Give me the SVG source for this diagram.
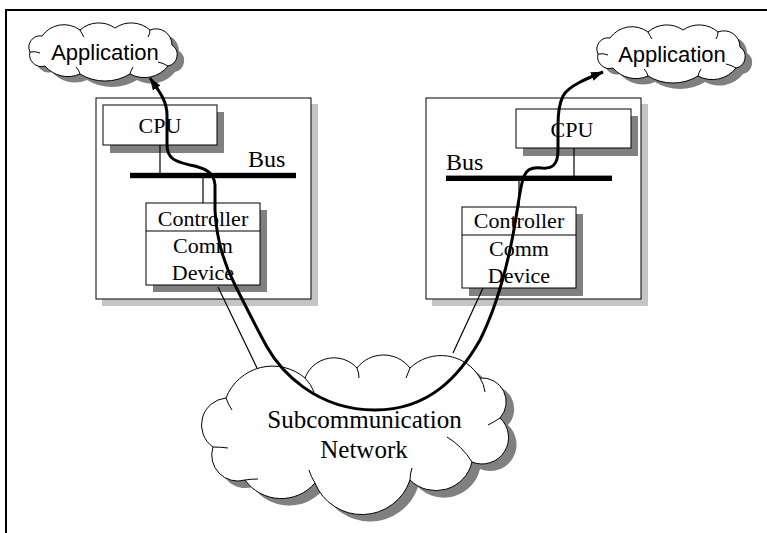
<svg xmlns="http://www.w3.org/2000/svg" xmlns:xlink="http://www.w3.org/1999/xlink" width="767" height="533" viewBox="0 0 767 533">
<style>
.frame{fill:none;stroke:#000;stroke-width:2}
.box{fill:#fff;stroke:#000;stroke-width:1}
.lshadow{fill:#c4c4c4}
.dshadow{fill:#808080}
.cloud{fill:#fff;stroke:#000;stroke-width:1}
.cshadow{fill:#808080;stroke:none}
.inner{fill:none;stroke:#000;stroke-width:1}
.bus{fill:#000}
.thin{fill:none;stroke:#000;stroke-width:1.2}
.path{fill:none;stroke:#000;stroke-width:3;marker-start:url(#arrow);marker-end:url(#arrow)}
.t{font-family:"Liberation Serif","Times New Roman",serif;fill:#000;text-anchor:middle}
.s{font-family:"Liberation Sans",Arial,sans-serif;fill:#000;text-anchor:middle;font-size:22px}
</style>
<defs>
<marker id="arrow" markerUnits="userSpaceOnUse" markerWidth="13" markerHeight="10" viewBox="0 0 13 10" refX="12" refY="5" orient="auto-start-reverse">
<path d="M0,0.5 L12.5,5 L0,9.5 z" fill="#000"/>
</marker>
<path id="appcloud" d="M30,52 A11.3,11.3 0 0 1 42,36 A27,27 0 0 1 80,30 A28.5,28.5 0 0 1 115,28 A28.5,28.5 0 0 1 150,30 A16,16 0 0 1 172,45 A11.6,11.6 0 0 1 168,66 A30,30 0 0 1 130,74 A48,48 0 0 1 80,74 A30,30 0 0 1 45,66 A11.8,11.8 0 0 1 30,52 Z"/>
<path id="appinner" d="M30,52 Q36,51 40,53 M80,30 Q82,34 84,37 M150,30 Q150,34 148,37 M168,66 Q163,63 158,62 M130,74 Q131,70 133,67 M80,74 Q79,70 76,67"/>
<path id="netcloud" d="M213,447 A27,27 0 0 1 226,398 A50,50 0 0 1 305,378 A31,31 0 0 1 357,368 A33.5,33.5 0 0 1 410,368 A45,45 0 0 1 480,378 A24,24 0 0 1 500,418 A26.5,26.5 0 0 1 472,462 A37,37 0 0 1 410,480 A50.7,50.7 0 0 1 315,483 A44.5,44.5 0 0 1 245,480 A26,26 0 0 1 213,447 Z"/>
</defs>

<g id="frame">
<path class="frame" d="M6,533 L6,10 L767,10"/>
</g>

<g id="left-computer">
<rect class="lshadow" x="102" y="104" width="216" height="202"/>
<rect class="box" x="96" y="98" width="215" height="201"/>
<rect class="dshadow" x="110" y="112" width="114" height="41"/>
<rect class="box" x="103" y="105" width="114" height="40"/>
<text class="t" x="160" y="133" font-size="22">CPU</text>
<line class="thin" x1="160" y1="145" x2="160" y2="173"/>
<rect class="bus" x="130" y="172.8" width="166" height="5.4"/>
<text class="t" x="248" y="167" font-size="24" text-anchor="start" style="text-anchor:start">Bus</text>
<line class="thin" x1="203" y1="178" x2="203" y2="203"/>
<rect class="dshadow" x="153" y="210" width="114" height="82"/>
<rect class="box" x="146" y="203" width="114" height="82"/>
<line class="thin" x1="146" y1="231" x2="260" y2="231"/>
<text class="t" x="203" y="226" font-size="22">Controller</text>
<text class="t" x="203" y="253" font-size="22">Comm</text>
<text class="t" x="203" y="280" font-size="22">Device</text>
</g>

<g id="right-computer">
<rect class="lshadow" x="432" y="104" width="216" height="202"/>
<rect class="box" x="426" y="98" width="215" height="201"/>
<rect class="dshadow" x="523" y="116" width="115" height="40"/>
<rect class="box" x="516" y="109" width="115" height="39"/>
<text class="t" x="572" y="137" font-size="22">CPU</text>
<line class="thin" x1="574" y1="148" x2="574" y2="176"/>
<rect class="bus" x="446" y="175.6" width="166" height="5.4"/>
<text class="t" x="446" y="170" font-size="24" style="text-anchor:start">Bus</text>
<line class="thin" x1="519" y1="181" x2="519" y2="207"/>
<rect class="dshadow" x="469" y="214" width="114" height="82"/>
<rect class="box" x="462" y="207" width="114" height="81"/>
<line class="thin" x1="462" y1="235" x2="576" y2="235"/>
<text class="t" x="519" y="228" font-size="22">Controller</text>
<text class="t" x="519" y="256" font-size="22">Comm</text>
<text class="t" x="519" y="283" font-size="22">Device</text>
</g>

<g id="app-left">
<use xlink:href="#appcloud" href="#appcloud" class="cshadow" transform="translate(7,6)"/>
<use xlink:href="#appcloud" href="#appcloud" class="cloud"/>
<use xlink:href="#appinner" href="#appinner" class="inner"/>
<text class="s" x="105" y="60">Application</text>
</g>

<g id="app-right">
<use xlink:href="#appcloud" href="#appcloud" class="cshadow" transform="translate(575,8)"/>
<use xlink:href="#appcloud" href="#appcloud" class="cloud" transform="translate(568,2)"/>
<use xlink:href="#appinner" href="#appinner" class="inner" transform="translate(568,2)"/>
<text class="s" x="672" y="62">Application</text>
</g>

<g id="connectors">
<line class="thin" x1="218" y1="287" x2="257" y2="368"/>
<line class="thin" x1="483" y1="288" x2="453" y2="353"/>
</g>

<g id="network">
<use xlink:href="#netcloud" href="#netcloud" class="cshadow" transform="translate(8,7)"/>
<use xlink:href="#netcloud" href="#netcloud" class="cloud"/>
<path class="inner" d="M305,378 Q311,384 314,392 M357,368 Q359,373 359,378 M410,368 Q408,373 406,378 M480,378 Q484,384 485,392 M500,418 Q494,422 488,425 M472,462 Q462,446 447,437 M410,480 Q410,474 412,468 M315,483 Q311,477 309,470 M245,480 Q251,479 258,479 M213,447 Q221,447 228,448 M226,398 Q228,404 232,410"/>
<text class="t" x="364.5" y="428" font-size="25">Subcommunication</text>
<text class="t" x="364" y="458" font-size="25">Network</text>
</g>

<g id="data-path">
<path class="path" d="M150,78 C158,90 167,100 167,115 L167,145 C167,160 178,162 190,165 C205,168 214,172 215,185 L215,210 C216,232 222,260 235,285 C245,305 255,325 267,347 C280,370 315,410 375,410 C430,410 460,375 480,340 C495,310 505,275 512,240 C518,210 520,185 524,176 C527,168 535,167 542,168 C552,169 558,165 558,150 L558,125 C558,112 560,102 563,96 C568,86 588,78 603,72"/>
</g>
</svg>
